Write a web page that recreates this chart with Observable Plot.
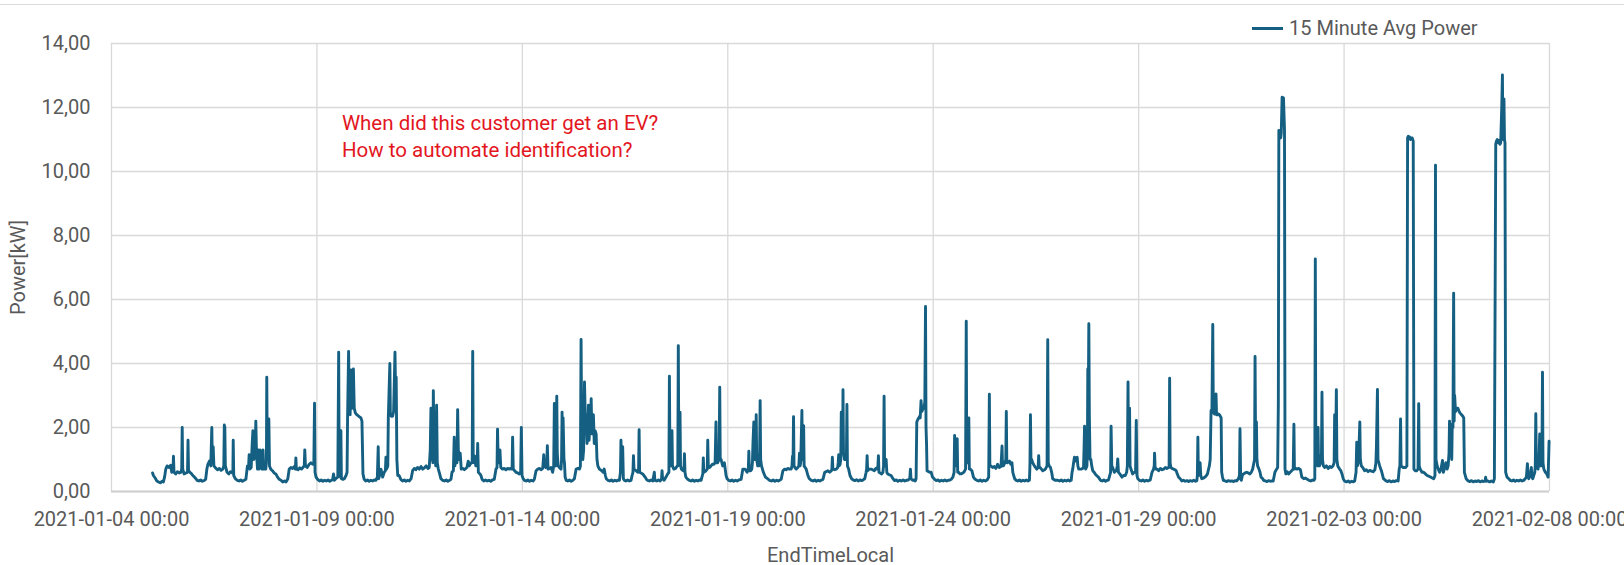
<!DOCTYPE html>
<html>
<head>
<meta charset="utf-8">
<script src="https://cdn.jsdelivr.net/npm/d3@7"></script>
<script src="https://cdn.jsdelivr.net/npm/@observablehq/plot@0.6"></script>
<style>
  body { margin: 0; background: #ffffff; }
  #wrap { position: relative; width: 1624px; height: 565px; overflow: hidden; font-family: Roboto, "Open Sans", sans-serif; }
  #topline { position: absolute; left: 0; top: 4px; width: 1624px; height: 0; border-top: 1.5px solid #d9d9d9; }
  #legend { position: absolute; left: 1252px; top: 15px; height: 26px; display: flex; align-items: center; color: #595959; font-size: 20px; white-space: nowrap; }
  #legend .sw { width: 31px; height: 3px; background: #156082; margin-right: 6px; }
  #chart { position: absolute; left: 0; top: 0; }
</style>
</head>
<body>
<div id="wrap">
  <div id="topline"></div>
  <div id="chart"></div>
  <div id="legend"><span class="sw"></span><span id="legendText"></span></div>
</div>
<script>
// ---- Data: [month-day, hour of day, kW] (15 minute average power) ----
const wk1 = [
  ["01-05",0,0.58],["01-05",0.5,0.5],["01-05",1.5,0.42],["01-05",2.5,0.33],["01-05",3.5,0.3],["01-05",4.5,0.27],["01-05",5.5,0.32],["01-05",6.3,0.3],["01-05",7,0.45],["01-05",7.7,0.7],["01-05",8.5,0.8],["01-05",9.5,0.75],["01-05",10.5,0.82],["01-05",11.2,0.6],["01-05",11.9,0.65],["01-05",12.2,1.1],["01-05",12.5,0.6],["01-05",13.5,0.55],["01-05",14.5,0.62],["01-05",15.5,0.58],["01-05",16.5,0.6],["01-05",17,0.7],["01-05",17.3,2.0],["01-05",17.6,0.7],["01-05",18.4,0.55],["01-05",19.5,0.58],["01-05",20.4,0.6],["01-05",20.7,1.6],["01-05",21,0.65],["01-05",21.8,0.6],["01-05",22.8,0.55],["01-05",23.5,0.5],
  ["01-06",0.5,0.45],["01-06",1.3,0.4],["01-06",2,0.35],["01-06",3,0.33],["01-06",4,0.36],["01-06",5,0.32],["01-06",6,0.34],["01-06",7,0.38],["01-06",7.7,0.7],["01-06",8.3,0.85],["01-06",9.2,0.95],["01-06",10,0.8],["01-06",10.6,2.0],["01-06",10.9,0.9],["01-06",11.4,1.4],["01-06",11.8,0.8],["01-06",13,0.72],["01-06",14,0.68],["01-06",15,0.72],["01-06",16,0.66],["01-06",17,0.7],["01-06",17.6,0.8],["01-06",17.9,2.08],["01-06",18.2,2.0],["01-06",18.5,0.8],["01-06",19.5,0.6],["01-06",20.5,0.55],["01-06",21.5,0.62],["01-06",22.5,0.58],["01-06",22.9,0.6],["01-06",23.1,1.6],["01-06",23.4,0.5],
  ["01-07",0.3,0.4],["01-07",1.5,0.35],["01-07",2.5,0.33],["01-07",3.5,0.36],["01-07",4.5,0.32],["01-07",5.5,0.35],["01-07",6.5,0.38],["01-07",7.4,0.8],["01-07",8.1,0.8],["01-07",8.4,1.15],["01-07",8.8,0.7],["01-07",9.6,0.75],["01-07",10.2,1.5],["01-07",10.6,1.9],["01-07",11.1,1.0],["01-07",11.9,1.1],["01-07",12.3,2.2],["01-07",12.7,1.2],["01-07",13.3,0.7],["01-07",13.7,1.3],["01-07",14.2,0.7],["01-07",14.8,1.3],["01-07",15.3,0.75],["01-07",16,0.7],["01-07",16.5,1.3],["01-07",17,0.7],["01-07",18.1,0.7],["01-07",18.5,0.9],["01-07",18.7,3.57],["01-07",19,1.2],["01-07",19.4,1.0],["01-07",19.9,2.27],["01-07",20.3,0.8],["01-07",21,0.7],["01-07",22,0.65],["01-07",23,0.58],
  ["01-08",0,0.55],["01-08",1,0.45],["01-08",2,0.38],["01-08",3,0.35],["01-08",4,0.3],["01-08",5,0.33],["01-08",6,0.3],["01-08",7,0.4],["01-08",7.8,0.7],["01-08",8.8,0.75],["01-08",9.8,0.72],["01-08",10.7,0.78],["01-08",11.4,0.7],["01-08",11.7,1.05],["01-08",12,0.7],["01-08",13,0.68],["01-08",14,0.74],["01-08",15,0.7],["01-08",15.8,0.75],["01-08",16.6,0.8],["01-08",16.9,1.3],["01-08",17.3,0.8],["01-08",18.3,0.75],["01-08",19.5,0.85],["01-08",20.5,0.9],["01-08",21.5,0.85],["01-08",22.2,0.9],["01-08",22.6,2.76],["01-08",22.9,0.6],["01-08",23.5,0.45],
  ["01-09",0.4,0.38],["01-09",1.5,0.33],["01-09",2.5,0.36],["01-09",3.5,0.32],["01-09",4.5,0.35],["01-09",5.5,0.33],["01-09",6.5,0.36],["01-09",7.5,0.32],["01-09",8.5,0.35],["01-09",9.2,0.38],["01-09",9.7,0.55],["01-09",10.2,0.35],["01-09",11,0.4],["01-09",12.2,0.45],["01-09",12.7,4.35],["01-09",13,0.6],["01-09",13.7,0.45],["01-09",14,1.9],["01-09",14.3,0.4],["01-09",15.2,0.38],["01-09",16,0.4],["01-09",17,0.5],["01-09",17.6,0.6],["01-09",17.9,2.3],["01-09",18.5,4.38],["01-09",18.9,2.5],["01-09",19.4,2.4],["01-09",19.9,3.8],["01-09",20.4,2.6],["01-09",20.9,2.9],["01-09",21.3,3.83],["01-09",21.8,2.6],["01-09",22.5,2.45],["01-09",23.3,2.4],
  ["01-10",0.5,2.35],["01-10",1.2,2.32],["01-10",1.7,2.3],["01-10",2.3,2.2],["01-10",2.9,0.55],["01-10",3.6,0.38],["01-10",4.5,0.33],["01-10",5.5,0.36],["01-10",6.5,0.32],["01-10",7.5,0.35],["01-10",8.5,0.33],["01-10",9.5,0.36],["01-10",10.5,0.35],["01-10",11.3,0.45],["01-10",11.8,1.4],["01-10",12.1,0.4],["01-10",12.6,0.5],["01-10",13.4,0.7],["01-10",14.4,0.45],["01-10",15.3,0.6],["01-10",16,0.65],["01-10",16.3,1.07],["01-10",16.7,0.7],["01-10",17.4,0.8],["01-10",17.7,2.3],["01-10",18.6,4.0],["01-10",18.9,2.4],["01-10",19.5,2.35],["01-10",20.2,2.35],["01-10",20.8,2.5],["01-10",21.6,4.35],["01-10",22,2.8],["01-10",22.3,3.57],["01-10",22.7,1.0],["01-10",23.2,0.5],
  ["01-11",0,0.5],["01-11",1,0.38],["01-11",2,0.33],["01-11",3,0.36],["01-11",4,0.32],["01-11",5,0.35],["01-11",6,0.33],["01-11",7,0.4],["01-11",7.9,0.65],["01-11",8.9,0.72],["01-11",9.8,0.68],["01-11",10.8,0.75],["01-11",11.8,0.7],["01-11",12.8,0.78],["01-11",13.8,0.7],["01-11",14.8,0.74],["01-11",15.8,0.8],["01-11",16.8,0.72],["01-11",17.6,0.75],["01-11",18.2,1.3],["01-11",18.6,2.6],["01-11",19,1.0],["01-11",19.4,1.5],["01-11",19.7,0.9],["01-11",20,3.15],["01-11",20.4,1.3],["01-11",20.9,1.2],["01-11",21.4,0.8],["01-11",21.9,2.7],["01-11",22.3,0.9],["01-11",22.9,0.7],["01-11",23.7,0.55]
];
const wk2 = [
  ["01-12",0.4,0.4],["01-12",1.5,0.35],["01-12",2.5,0.33],["01-12",3.5,0.36],["01-12",4.5,0.32],["01-12",5.5,0.35],["01-12",6.3,0.38],["01-12",6.9,0.6],["01-12",7.7,0.65],["01-12",8.2,1.7],["01-12",8.6,0.8],["01-12",9.4,1.3],["01-12",9.8,0.9],["01-12",10.2,2.56],["01-12",10.6,1.3],["01-12",11.1,1.0],["01-12",11.7,1.2],["01-12",12.3,0.7],["01-12",13.2,0.72],["01-12",14.1,0.68],["01-12",15,0.72],["01-12",15.6,0.75],["01-12",16.4,0.95],["01-12",16.9,0.8],["01-12",18.1,0.9],["01-12",18.7,0.9],["01-12",19,4.38],["01-12",19.3,1.0],["01-12",19.8,0.9],["01-12",20.3,1.1],["01-12",20.8,0.8],["01-12",21.6,0.8],["01-12",21.9,1.5],["01-12",22.3,0.6],["01-12",23.2,0.55],["01-12",23.8,0.5],
  ["01-13",0.5,0.38],["01-13",1.5,0.33],["01-13",2.5,0.36],["01-13",3.5,0.33],["01-13",4.5,0.35],["01-13",5.5,0.32],["01-13",6.5,0.36],["01-13",7.6,0.38],["01-13",8.6,0.7],["01-13",9.2,0.75],["01-13",9.5,1.95],["01-13",9.9,0.9],["01-13",10.5,0.9],["01-13",10.9,1.3],["01-13",11.4,0.75],["01-13",12.4,0.7],["01-13",13.4,0.72],["01-13",14.4,0.68],["01-13",15.4,0.72],["01-13",16.4,0.7],["01-13",17.3,0.72],["01-13",18,0.7],["01-13",18.3,1.7],["01-13",18.7,0.7],["01-13",19.5,0.65],["01-13",20.3,0.6],["01-13",21.3,0.58],["01-13",22.2,0.55],["01-13",23,0.6],["01-13",23.4,2.0],["01-13",23.8,0.5],
  ["01-14",0.5,0.4],["01-14",1.2,0.35],["01-14",2.2,0.33],["01-14",3.2,0.36],["01-14",4.2,0.32],["01-14",5.2,0.35],["01-14",6.2,0.33],["01-14",7,0.38],["01-14",8,0.65],["01-14",9,0.7],["01-14",10,0.72],["01-14",11,0.68],["01-14",11.9,0.72],["01-14",12.5,1.15],["01-14",12.9,0.8],["01-14",13.7,0.75],["01-14",14.3,0.9],["01-14",14.6,1.43],["01-14",15,0.7],["01-14",16,0.72],["01-14",16.8,0.75],["01-14",17.7,0.6],["01-14",18.3,0.8],["01-14",18.7,2.75],["01-14",19,0.9],["01-14",19.5,0.8],["01-14",19.8,1.2],["01-14",20.1,2.98],["01-14",20.4,1.2],["01-14",20.9,0.8],["01-14",21.6,0.75],["01-14",22.6,0.7],["01-14",22.9,1.0],["01-14",23.2,2.48],["01-14",23.5,1.0],["01-14",23.8,2.3],
  ["01-15",0.3,1.0],["01-15",0.6,0.9],["01-15",1,0.45],["01-15",1.6,0.35],["01-15",2.5,0.33],["01-15",3.5,0.36],["01-15",4.5,0.32],["01-15",5.5,0.35],["01-15",6.4,0.4],["01-15",7.4,0.7],["01-15",8.4,0.72],["01-15",9.4,0.7],["01-15",9.9,0.8],["01-15",10.3,4.75],["01-15",10.7,1.5],["01-15",11.3,1.0],["01-15",11.8,1.3],["01-15",12.3,3.42],["01-15",12.8,2.2],["01-15",13.2,2.4],["01-15",13.8,1.5],["01-15",14.2,1.8],["01-15",14.6,2.7],["01-15",15,1.6],["01-15",15.4,2.2],["01-15",15.8,1.9],["01-15",16.2,2.9],["01-15",16.6,1.8],["01-15",16.9,2.0],["01-15",17.5,2.4],["01-15",18,1.5],["01-15",18.5,1.9],["01-15",19.1,1.8],["01-15",19.6,1.0],["01-15",20.1,0.8],["01-15",21,0.7],["01-15",22.4,0.65],["01-15",23.2,0.6],["01-15",23.8,0.7],
  ["01-16",0.5,0.5],["01-16",1,0.4],["01-16",2,0.35],["01-16",3,0.33],["01-16",4,0.36],["01-16",5,0.32],["01-16",6,0.35],["01-16",7,0.33],["01-16",8,0.36],["01-16",8.7,0.35],["01-16",9.3,0.6],["01-16",9.6,1.6],["01-16",9.9,0.8],["01-16",10.3,0.9],["01-16",10.6,1.4],["01-16",11,0.4],["01-16",11.6,0.35],["01-16",12.5,0.33],["01-16",13.5,0.36],["01-16",14.5,0.33],["01-16",15.5,0.35],["01-16",16.1,0.5],["01-16",16.6,0.6],["01-16",16.9,1.12],["01-16",17.2,0.7],["01-16",18.4,0.65],["01-16",19.4,0.6],["01-16",19.9,0.7],["01-16",20.2,1.93],["01-16",20.5,0.6],["01-16",21.3,0.58],["01-16",22.3,0.55],["01-16",23.7,0.45],
  ["01-17",0.5,0.38],["01-17",1.2,0.35],["01-17",2.2,0.33],["01-17",3.2,0.36],["01-17",4.2,0.33],["01-17",5.1,0.6],["01-17",5.4,0.35],["01-17",6.5,0.33],["01-17",7.5,0.36],["01-17",8.5,0.33],["01-17",9.3,0.4],["01-17",9.6,0.65],["01-17",9.9,0.4],["01-17",10.8,0.35],["01-17",11.9,0.45],["01-17",12.9,0.55],["01-17",13.6,0.6],["01-17",13.9,3.6],["01-17",14.2,1.0],["01-17",14.7,1.5],["01-17",15.1,0.8],["01-17",15.4,1.9],["01-17",15.7,0.8],["01-17",16.5,0.7],["01-17",17.5,0.72],["01-17",18.4,0.8],["01-17",18.8,0.8],["01-17",19.1,4.56],["01-17",19.4,1.2],["01-17",19.8,1.0],["01-17",20.1,2.48],["01-17",20.4,0.8],["01-17",20.9,0.7],["01-17",21.9,0.65],["01-17",22.4,0.7],["01-17",22.7,1.18],["01-17",23,0.6],["01-17",23.5,0.45],
  ["01-18",0.6,0.38],["01-18",1.5,0.35],["01-18",2.5,0.33],["01-18",3.5,0.36],["01-18",4.5,0.32],["01-18",5.5,0.35],["01-18",6.5,0.33],["01-18",7.5,0.36],["01-18",8.4,0.35],["01-18",9.4,0.55],["01-18",9.7,1.05],["01-18",10,0.6],["01-18",11.3,0.65],["01-18",12,0.7],["01-18",12.3,1.6],["01-18",12.6,0.8],["01-18",13.4,0.75],["01-18",14.2,0.8],["01-18",15,0.85],["01-18",15.8,0.85],["01-18",16.6,0.9],["01-18",17.1,2.17],["01-18",17.4,0.9],["01-18",18.1,0.9],["01-18",18.9,1.0],["01-18",19.3,3.26],["01-18",19.6,1.0],["01-18",20.1,1.0],["01-18",21,0.8],["01-18",21.5,0.85],["01-18",22,0.9],["01-18",22.5,0.7],["01-18",23,0.5],["01-18",23.6,0.4]
];
const wk3 = [
  ["01-19",0.5,0.35],["01-19",1.5,0.33],["01-19",2.5,0.36],["01-19",3.5,0.32],["01-19",4.5,0.35],["01-19",5.5,0.33],["01-19",6.5,0.36],["01-19",7.8,0.38],["01-19",8.8,0.7],["01-19",10.1,0.7],["01-19",11.3,0.6],["01-19",12,0.7],["01-19",12.3,1.26],["01-19",12.6,0.65],["01-19",13.4,0.65],["01-19",14,0.7],["01-19",14.4,0.9],["01-19",14.7,1.5],["01-19",15.2,2.17],["01-19",15.6,1.0],["01-19",16.2,1.0],["01-19",16.6,2.4],["01-19",16.9,1.0],["01-19",17.5,0.8],["01-19",18.2,0.8],["01-19",18.6,1.2],["01-19",18.9,2.84],["01-19",19.2,1.0],["01-19",19.7,0.8],["01-19",20.8,0.6],["01-19",22,0.45],["01-19",23.2,0.4],
  ["01-20",0.4,0.35],["01-20",1.5,0.33],["01-20",2.5,0.36],["01-20",3.5,0.32],["01-20",4.5,0.35],["01-20",5.5,0.33],["01-20",6.5,0.36],["01-20",7.2,0.38],["01-20",8.2,0.65],["01-20",9.2,0.7],["01-20",10.1,0.68],["01-20",11.1,0.72],["01-20",12,0.7],["01-20",13,0.7],["01-20",13.5,0.8],["01-20",13.8,1.1],["01-20",14.1,0.8],["01-20",14.4,2.34],["01-20",14.7,0.8],["01-20",15.2,0.75],["01-20",16,0.7],["01-20",16.9,0.75],["01-20",17.5,0.8],["01-20",17.9,1.2],["01-20",18.2,0.8],["01-20",18.6,0.9],["01-20",19.3,2.53],["01-20",19.6,1.0],["01-20",19.9,1.2],["01-20",20.3,2.06],["01-20",20.6,0.8],["01-20",21.2,0.75],["01-20",21.8,0.7],["01-20",22.8,0.5],["01-20",23.6,0.4],
  ["01-21",0.8,0.35],["01-21",1.8,0.33],["01-21",2.8,0.36],["01-21",3.8,0.32],["01-21",4.8,0.35],["01-21",5.8,0.33],["01-21",6.8,0.36],["01-21",7.6,0.38],["01-21",8.6,0.6],["01-21",9.5,0.62],["01-21",10.5,0.65],["01-21",11.5,0.6],["01-21",12.5,0.65],["01-21",12.8,0.7],["01-21",13.1,1.07],["01-21",13.4,0.7],["01-21",14.4,0.68],["01-21",15.4,0.7],["01-21",16.2,0.75],["01-21",16.5,0.9],["01-21",16.8,1.15],["01-21",17.1,0.8],["01-21",17.6,0.85],["01-21",18,1.0],["01-21",18.3,2.48],["01-21",18.7,1.4],["01-21",19.1,1.2],["01-21",19.3,3.18],["01-21",19.6,1.2],["01-21",20.2,1.0],["01-21",20.9,1.0],["01-21",21.3,1.1],["01-21",21.6,2.72],["01-21",21.9,0.8],["01-21",22.6,0.7],["01-21",23.4,0.5],
  ["01-22",0.3,0.4],["01-22",1.2,0.36],["01-22",2.2,0.34],["01-22",3.2,0.37],["01-22",4.2,0.33],["01-22",5.2,0.36],["01-22",6.2,0.34],["01-22",7.2,0.37],["01-22",8,0.4],["01-22",8.8,0.6],["01-22",9.1,0.7],["01-22",9.4,1.12],["01-22",9.7,0.65],["01-22",10.6,0.7],["01-22",11.7,0.7],["01-22",12.6,0.68],["01-22",13.6,0.65],["01-22",14.4,0.72],["01-22",15.2,0.7],["01-22",15.7,0.8],["01-22",16,1.12],["01-22",16.3,0.6],["01-22",17,0.58],["01-22",17.9,0.55],["01-22",18.6,0.6],["01-22",19,0.8],["01-22",19.3,2.98],["01-22",19.6,0.8],["01-22",20,0.9],["01-22",20.5,1.0],["01-22",20.9,0.6],["01-22",21.4,0.55],["01-22",22.4,0.52],["01-22",23.4,0.5],
  ["01-23",0.5,0.4],["01-23",1.4,0.34],["01-23",2.4,0.36],["01-23",3.4,0.32],["01-23",4.4,0.35],["01-23",5.4,0.33],["01-23",6.4,0.36],["01-23",7.4,0.33],["01-23",8.4,0.35],["01-23",9.4,0.36],["01-23",10.3,0.4],["01-23",10.7,0.7],["01-23",11,0.4],["01-23",12,0.35],["01-23",13,0.36],["01-23",13.5,0.33],["01-23",14,0.4],["01-23",14.4,2.17],["01-23",15,2.25],["01-23",15.6,2.3],["01-23",16.1,2.35],["01-23",16.4,2.3],["01-23",16.9,2.84],["01-23",17.3,2.5],["01-23",17.8,2.55],["01-23",18.3,2.6],["01-23",18.7,2.65],["01-23",19.1,2.8],["01-23",19.5,5.78],["01-23",19.8,2.0],["01-23",20.1,1.5],["01-23",20.4,0.65],["01-23",21.2,0.62],["01-23",22,0.6],["01-23",22.8,0.6],["01-23",23.6,0.45],
  ["01-24",0.8,0.38],["01-24",1.8,0.34],["01-24",2.8,0.36],["01-24",3.8,0.32],["01-24",4.8,0.35],["01-24",5.8,0.33],["01-24",6.8,0.36],["01-24",7.8,0.33],["01-24",8.8,0.35],["01-24",9.8,0.36],["01-24",10.5,0.38],["01-24",11.5,0.45],["01-24",12.2,0.6],["01-24",12.5,1.75],["01-24",12.8,0.8],["01-24",13.2,0.8],["01-24",13.6,1.0],["01-24",14,1.65],["01-24",14.3,0.6],["01-24",14.8,0.6],["01-24",15.6,0.55],["01-24",16.4,0.55],["01-24",17.2,0.58],["01-24",17.9,0.6],["01-24",18.9,0.7],["01-24",19.3,5.32],["01-24",19.6,0.9],["01-24",20,0.9],["01-24",20.5,1.0],["01-24",20.8,2.3],["01-24",21.1,0.7],["01-24",21.6,0.7],["01-24",22.6,0.65],["01-24",23.5,0.45],
  ["01-25",0.5,0.38],["01-25",1.5,0.35],["01-25",2.5,0.33],["01-25",3.5,0.36],["01-25",4.5,0.32],["01-25",5.5,0.35],["01-25",6.5,0.33],["01-25",7.5,0.36],["01-25",8.4,0.45],["01-25",8.8,3.04],["01-25",9.1,0.8],["01-25",9.6,0.8],["01-25",10.7,0.75],["01-25",11.7,0.78],["01-25",12.6,0.72],["01-25",13.6,0.85],["01-25",14.6,0.75],["01-25",15.6,0.78],["01-25",16.2,1.42],["01-25",16.5,0.8],["01-25",17,0.8],["01-25",17.9,0.9],["01-25",18.4,1.0],["01-25",18.7,2.5],["01-25",19,0.9],["01-25",19.5,0.9],["01-25",20.6,0.95],["01-25",21.3,0.85],["01-25",22,0.9],["01-25",22.5,0.6],["01-25",23,0.5],["01-25",23.6,0.4]
];
const wk4 = [
  ["01-26",0.4,0.35],["01-26",1.4,0.33],["01-26",2.4,0.36],["01-26",3.4,0.32],["01-26",4.4,0.35],["01-26",5.4,0.33],["01-26",6.4,0.36],["01-26",7.4,0.33],["01-26",8.2,0.35],["01-26",8.5,0.8],["01-26",8.8,2.4],["01-26",9.1,1.0],["01-26",9.5,1.0],["01-26",10.1,0.9],["01-26",11.1,0.8],["01-26",12.5,0.7],["01-26",13.3,0.75],["01-26",13.6,1.12],["01-26",13.9,0.75],["01-26",14.4,0.75],["01-26",15.2,0.7],["01-26",16,0.65],["01-26",17,0.68],["01-26",17.5,0.7],["01-26",18.5,0.8],["01-26",18.9,4.74],["01-26",19.2,0.9],["01-26",19.7,0.8],["01-26",20.5,0.75],["01-26",21.2,0.6],["01-26",21.8,0.4],["01-26",23.2,0.35],
  ["01-27",0.8,0.35],["01-27",1.8,0.33],["01-27",2.8,0.36],["01-27",3.8,0.32],["01-27",4.8,0.35],["01-27",5.8,0.33],["01-27",6.8,0.36],["01-27",7.8,0.33],["01-27",8.6,0.35],["01-27",9.1,0.6],["01-27",9.5,0.7],["01-27",10,0.9],["01-27",10.5,1.07],["01-27",11,0.95],["01-27",11.6,1.05],["01-27",12.1,1.07],["01-27",12.5,0.8],["01-27",13,0.7],["01-27",14.4,0.7],["01-27",15.3,0.72],["01-27",15.8,0.75],["01-27",16.1,1.3],["01-27",16.4,2.04],["01-27",16.7,0.8],["01-27",17.1,0.7],["01-27",17.8,0.8],["01-27",18.1,1.5],["01-27",18.3,3.83],["01-27",18.6,2.8],["01-27",18.9,5.24],["01-27",19.2,2.4],["01-27",19.6,1.0],["01-27",20.1,1.0],["01-27",20.6,0.8],["01-27",21.2,0.65],["01-27",22,0.6],["01-27",22.6,0.55],["01-27",23.4,0.5],
  ["01-28",0.5,0.45],["01-28",1.7,0.35],["01-28",2.7,0.33],["01-28",3.7,0.36],["01-28",4.7,0.32],["01-28",5.6,0.35],["01-28",6.4,0.36],["01-28",7.1,0.5],["01-28",7.6,0.6],["01-28",7.9,2.04],["01-28",8.3,0.8],["01-28",8.8,0.75],["01-28",9.8,0.6],["01-28",10.5,0.65],["01-28",11,0.65],["01-28",11.5,0.8],["01-28",11.8,1.02],["01-28",12.2,0.6],["01-28",13,0.55],["01-28",14.3,0.45],["01-28",15.2,0.5],["01-28",16.2,0.5],["01-28",17,0.6],["01-28",17.4,0.8],["01-28",17.8,3.42],["01-28",18.1,1.0],["01-28",18.4,1.0],["01-28",18.7,2.6],["01-28",19,0.8],["01-28",19.5,0.7],["01-28",20.5,0.55],["01-28",21.5,0.6],["01-28",22.2,0.6],["01-28",22.6,2.22],["01-28",23,0.5],["01-28",23.5,0.4],
  ["01-29",0.5,0.35],["01-29",1.5,0.33],["01-29",2.5,0.36],["01-29",3.5,0.32],["01-29",4.5,0.35],["01-29",5.5,0.33],["01-29",6.8,0.36],["01-29",7.8,0.6],["01-29",8.7,0.7],["01-29",9.1,0.8],["01-29",9.3,1.2],["01-29",9.6,0.8],["01-29",9.9,0.7],["01-29",10.7,0.7],["01-29",11.7,0.65],["01-29",12.7,0.72],["01-29",13.7,0.68],["01-29",14.7,0.7],["01-29",15.6,0.75],["01-29",16.5,0.72],["01-29",17.5,0.75],["01-29",17.8,0.8],["01-29",18.1,3.54],["01-29",18.4,0.9],["01-29",18.8,0.75],["01-29",19.6,0.72],["01-29",20.4,0.7],["01-29",21.2,0.68],["01-29",21.9,0.65],["01-29",22.6,0.55],["01-29",23.3,0.45],
  ["01-30",0.3,0.4],["01-30",1.2,0.33],["01-30",2.2,0.35],["01-30",3.2,0.32],["01-30",4.2,0.34],["01-30",5.2,0.31],["01-30",6.2,0.34],["01-30",7.2,0.32],["01-30",8.2,0.35],["01-30",9.2,0.32],["01-30",10,0.34],["01-30",10.3,0.5],["01-30",10.6,1.7],["01-30",10.9,0.5],["01-30",11.5,0.6],["01-30",11.9,0.9],["01-30",12.3,0.5],["01-30",12.9,0.4],["01-30",13.9,0.42],["01-30",14.8,0.45],["01-30",15.6,0.5],["01-30",16.2,0.55],["01-30",17.3,0.8],["01-30",17.8,1.0],["01-30",18.3,2.53],["01-30",18.8,2.45],["01-30",19.3,5.22],["01-30",19.6,2.6],["01-30",19.9,2.5],["01-30",20.3,2.42],["01-30",20.7,2.45],["01-30",21.2,3.05],["01-30",21.5,2.4],["01-30",22,2.4],["01-30",22.6,2.42],["01-30",23.2,2.4],["01-30",23.7,2.35],
  ["01-31",0.2,2.3],["01-31",0.5,0.6],["01-31",1,0.45],["01-31",1.5,0.35],["01-31",2.5,0.33],["01-31",3.5,0.31],["01-31",4.5,0.34],["01-31",5.5,0.32],["01-31",6.5,0.33],["01-31",7.5,0.31],["01-31",8.5,0.34],["01-31",9.3,0.33],["01-31",10.3,0.4],["01-31",10.9,0.5],["01-31",11.2,1.96],["01-31",11.6,0.4],["01-31",12,0.35],["01-31",12.6,0.5],["01-31",13.2,0.55],["01-31",14.2,0.58],["01-31",15.1,0.6],["01-31",16,0.58],["01-31",17,0.55],["01-31",17.8,0.6],["01-31",18.6,0.7],["01-31",19.7,1.0],["01-31",20,4.22],["01-31",20.3,1.5],["01-31",20.5,1.2],["01-31",20.8,2.17],["01-31",21.1,1.0],["01-31",21.5,0.8],["01-31",22.3,0.7],["01-31",22.9,0.6],["01-31",23.5,0.45],
  ["02-01",0.5,0.4],["02-01",1,0.35],["02-01",2,0.33],["02-01",3,0.31],["02-01",4,0.34],["02-01",5,0.32],["02-01",6,0.33],["02-01",6.6,0.33],["02-01",7.6,0.6],["02-01",8.6,0.7],["02-01",9.2,0.75],["02-01",9.6,2.7],["02-01",9.9,11.28],["02-01",10.4,11.1],["02-01",11,11.05],["02-01",11.3,11.2],["02-01",11.8,12.32],["02-01",12.2,11.6],["02-01",12.6,12.3],["02-01",13.2,11.3],["02-01",13.5,0.7],["02-01",14,0.55],["02-01",14.8,0.62],["02-01",15.6,0.55],["02-01",16.5,0.6],["02-01",17.4,0.65],["02-01",18.3,0.7],["02-01",18.7,2.1],["02-01",19,0.7],["02-01",19.6,0.72],["02-01",20.5,0.7],["02-01",21.5,0.72],["02-01",22.5,0.68],["02-01",23.3,0.45]
];
const wk5 = [
  ["02-02",0.5,0.4],["02-02",1.5,0.42],["02-02",2.5,0.38],["02-02",3.5,0.35],["02-02",4.5,0.33],["02-02",5.5,0.36],["02-02",6.4,0.35],["02-02",6.9,0.4],["02-02",7.2,7.27],["02-02",7.5,1.0],["02-02",8,1.2],["02-02",8.5,0.8],["02-02",8.8,2.0],["02-02",9.1,0.8],["02-02",9.6,0.8],["02-02",10.3,0.9],["02-02",10.8,1.2],["02-02",11.1,3.1],["02-02",11.4,1.0],["02-02",11.9,0.8],["02-02",12.7,0.75],["02-02",13.7,0.8],["02-02",14.7,0.72],["02-02",15.7,0.78],["02-02",16.6,0.75],["02-02",17.5,0.8],["02-02",18.2,0.9],["02-02",18.5,2.4],["02-02",18.8,1.5],["02-02",19.1,1.5],["02-02",19.5,3.18],["02-02",19.8,1.0],["02-02",20.3,0.8],["02-02",21.4,0.7],["02-02",22.1,0.65],["02-02",22.8,0.55],["02-02",23.5,0.4],
  ["02-03",0.4,0.32],["02-03",1.4,0.3],["02-03",2.4,0.33],["02-03",3.4,0.29],["02-03",4.4,0.32],["02-03",5.4,0.3],["02-03",6.2,0.33],["02-03",7,0.6],["02-03",7.4,1.54],["02-03",7.8,0.8],["02-03",8.2,0.9],["02-03",8.8,1.5],["02-03",9.2,2.17],["02-03",9.5,1.0],["02-03",10.1,0.8],["02-03",10.9,0.75],["02-03",12,0.65],["02-03",13,0.68],["02-03",14,0.62],["02-03",15,0.66],["02-03",16,0.64],["02-03",17,0.62],["02-03",18,0.68],["02-03",18.6,0.9],["02-03",18.9,1.4],["02-03",19.5,3.19],["02-03",19.8,1.0],["02-03",20.3,0.9],["02-03",20.8,0.8],["02-03",21.8,0.65],["02-03",23,0.4],
  ["02-04",0.5,0.33],["02-04",1.5,0.31],["02-04",2.5,0.34],["02-04",3.5,0.3],["02-04",4.5,0.33],["02-04",5.5,0.31],["02-04",6.5,0.34],["02-04",7.6,0.33],["02-04",8.2,0.7],["02-04",8.6,0.8],["02-04",9,2.27],["02-04",9.3,0.8],["02-04",10.5,0.75],["02-04",11.9,0.75],["02-04",12.7,0.8],["02-04",13.1,11.05],["02-04",13.5,11.1],["02-04",14.3,11.08],["02-04",14.8,11.0],["02-04",15.4,11.05],["02-04",15.8,11.05],["02-04",16.4,10.95],["02-04",16.8,0.7],["02-04",17.5,0.65],["02-04",18.4,0.65],["02-04",19.2,0.7],["02-04",19.6,2.74],["02-04",19.9,0.8],["02-04",20.5,0.7],["02-04",21.5,0.6],["02-04",22.5,0.6],["02-04",23.5,0.55],
  ["02-05",0.5,0.5],["02-05",1.5,0.48],["02-05",2.5,0.45],["02-05",3.5,0.42],["02-05",4.3,0.4],["02-05",4.8,0.45],["02-05",5.1,0.5],["02-05",5.4,10.2],["02-05",5.7,1.0],["02-05",6.4,0.8],["02-05",7,0.7],["02-05",7.8,0.6],["02-05",8.6,0.7],["02-05",9.5,0.97],["02-05",10,0.6],["02-05",10.8,0.75],["02-05",11.5,0.9],["02-05",12.2,0.7],["02-05",12.8,0.8],["02-05",13.3,1.2],["02-05",13.6,2.2],["02-05",13.9,1.3],["02-05",14.3,1.8],["02-05",14.6,1.9],["02-05",14.9,1.0],["02-05",15.2,2.1],["02-05",15.6,2.0],["02-05",16,6.2],["02-05",16.3,2.2],["02-05",16.6,3.0],["02-05",17.1,2.5],["02-05",17.7,2.6],["02-05",18.5,2.6],["02-05",19.2,2.5],["02-05",19.8,2.45],["02-05",20.6,2.4],["02-05",21.4,2.35],["02-05",21.9,2.3],["02-05",22.3,0.6],["02-05",23.3,0.4],
  ["02-06",0.5,0.33],["02-06",1.5,0.31],["02-06",2.5,0.34],["02-06",3.5,0.3],["02-06",4.5,0.33],["02-06",5.5,0.31],["02-06",6.5,0.34],["02-06",7.5,0.3],["02-06",8.5,0.33],["02-06",9.5,0.31],["02-06",10.4,0.34],["02-06",10.7,0.45],["02-06",11,0.32],["02-06",12,0.33],["02-06",13,0.3],["02-06",14,0.33],["02-06",15.2,0.3],["02-06",15.8,0.4],["02-06",16.6,10.86],["02-06",17,10.95],["02-06",17.5,11.0],["02-06",18,10.9],["02-06",18.5,10.97],["02-06",19,10.85],["02-06",19.5,10.9],["02-06",20.1,12.0],["02-06",20.5,13.02],["02-06",20.8,11.0],["02-06",21.1,11.4],["02-06",21.4,12.27],["02-06",21.7,11.0],["02-06",22,10.9],["02-06",22.4,0.6],["02-06",23.2,0.45],
  ["02-07",0.2,0.4],["02-07",1,0.35],["02-07",2,0.33],["02-07",3,0.36],["02-07",4,0.32],["02-07",5,0.35],["02-07",6,0.33],["02-07",7,0.36],["02-07",8,0.33],["02-07",9,0.35],["02-07",9.8,0.4],["02-07",10.5,0.45],["02-07",11.1,0.87],["02-07",11.5,0.45],["02-07",11.9,0.4],["02-07",12.7,0.5],["02-07",13.4,0.75],["02-07",13.8,0.45],["02-07",14.2,0.4],["02-07",14.8,0.5],["02-07",15.4,0.6],["02-07",15.7,0.8],["02-07",16,2.43],["02-07",16.3,0.8],["02-07",16.8,0.75],["02-07",17.3,0.7],["02-07",17.8,0.9],["02-07",18.3,1.8],["02-07",18.7,0.8],["02-07",19.1,0.8],["02-07",19.6,1.2],["02-07",19.9,3.73],["02-07",20.2,0.9],["02-07",20.7,0.7],["02-07",21.6,0.6],["02-07",22.4,0.55],["02-07",23.2,0.45],["02-07",23.75,1.57]
];

// ---- Axes and text ----
const xTickDates = ["2021-01-04", "2021-01-09", "2021-01-14", "2021-01-19", "2021-01-24", "2021-01-29", "2021-02-03", "2021-02-08"];
const xTickLabels = ["2021-01-04 00:00", "2021-01-09 00:00", "2021-01-14 00:00", "2021-01-19 00:00", "2021-01-24 00:00", "2021-01-29 00:00", "2021-02-03 00:00", "2021-02-08 00:00"];
const yTicks = [0, 2, 4, 6, 8, 10, 12, 14];
const yTickLabels = ["0,00", "2,00", "4,00", "6,00", "8,00", "10,00", "12,00", "14,00"];
const seriesName = "15 Minute Avg Power";
const xTitle = "EndTimeLocal";
const yTitle = "Power[kW]";
const noteLines = ["When did this customer get an EV?", "How to automate identification?"];
const notePosition = ["2021-01-09T14:35", 11.15];

// ---- Build ----
const toDate = s => new Date(s + "T00:00:00Z");
const series = [...wk1, ...wk2, ...wk3, ...wk4, ...wk5]
  .map(([md, h, kw]) => ({t: new Date(Date.parse(`2021-${md}T00:00:00Z`) + h * 3600e3), kW: kw}))
  .sort((a, b) => a.t - b.t);
const xTicks = xTickDates.map(toDate);
const xLabelOf = new Map(xTicks.map((d, i) => [+d, xTickLabels[i]]));
const yLabelOf = new Map(yTicks.map((d, i) => [d, yTickLabels[i]]));

document.getElementById("legendText").textContent = seriesName;

const grid = "#d9d9d9";
const chart = Plot.plot({
  width: 1624,
  height: 565,
  marginLeft: 111,
  marginRight: 75,
  marginTop: 43,
  marginBottom: 74,
  style: {fontFamily: "Roboto, 'Open Sans', sans-serif", fontSize: "20px", color: "#595959", background: "transparent", overflow: "visible"},
  x: {type: "utc", domain: [xTicks[0], xTicks[xTicks.length - 1]]},
  y: {domain: [0, 14]},
  marks: [
    Plot.gridX(xTicks, {stroke: grid, strokeOpacity: 1, strokeWidth: 1.3}),
    Plot.gridY(yTicks, {stroke: grid, strokeOpacity: 1, strokeWidth: 1.3}),
    Plot.ruleY([0], {stroke: "#cfcfcf", strokeWidth: 2}),
    Plot.axisX(xTicks, {tickSize: 0, tickPadding: 20, fontSize: 20, fill: "#595959", tickFormat: d => xLabelOf.get(+d),
      label: xTitle, labelAnchor: "center", labelArrow: "none", labelOffset: 70}),
    Plot.axisY(yTicks, {tickSize: 0, tickPadding: 21, fontSize: 20, fill: "#595959", tickFormat: d => yLabelOf.get(d),
      label: yTitle, labelAnchor: "center", labelArrow: "none", labelOffset: 101}),
    Plot.line(series, {x: "t", y: "kW", stroke: "#156082", strokeWidth: 2.9, strokeLinejoin: "round"}),
    Plot.text([noteLines.join("\n")], {x: () => new Date(notePosition[0] + ":00Z"), y: () => notePosition[1],
      text: d => d, textAnchor: "start", lineAnchor: "middle", lineHeight: 1.35, fontSize: 20.5, fill: "#e3161e"})
  ]
});
document.getElementById("chart").appendChild(chart);
</script>
</body>
</html>
